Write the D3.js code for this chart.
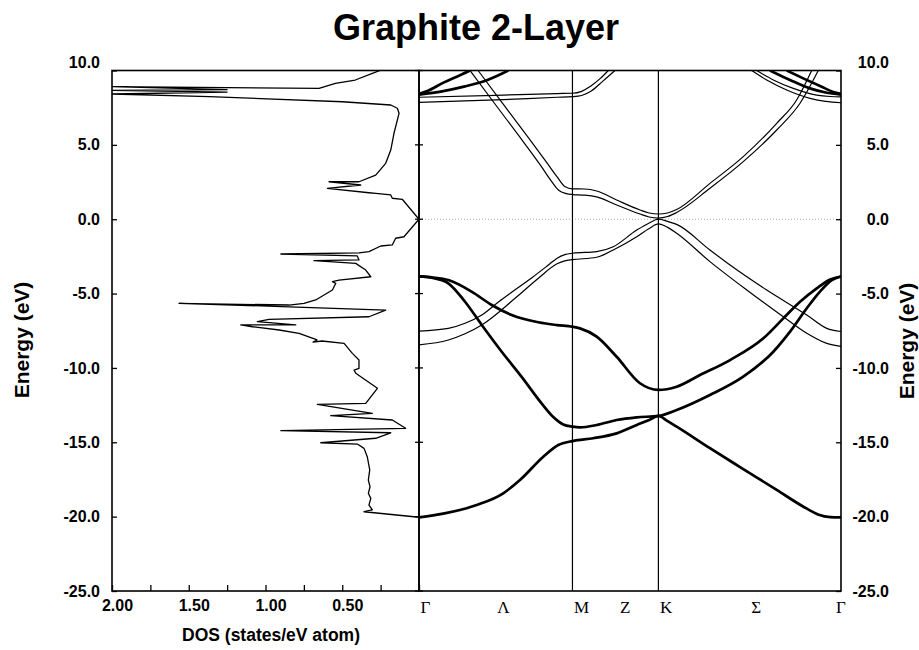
<!DOCTYPE html>
<html lang="en">
<head>
  <meta charset="UTF-8">
  <title>Graphite 2-Layer</title>
  <style>
    body { margin: 0; background: #fff; }
    svg { display: block; }
  </style>
</head>
<body>
<svg width="919" height="650"></svg>

<script src="https://cdn.jsdelivr.net/npm/d3@7"></script>
<script>
  // axis ticks
  var energyTicks = [10, 5, 0, -5, -10, -15, -20, -25];
  var dosTicks = [2, 1.75, 1.5, 1.25, 1, 0.75, 0.5, 0.25, 0];
  var dosLabels = [2, 1.5, 1, 0.5];

  // k path Γ-M-K-Γ (distance, ΓM = 1)
  var kPoints = [0, 1, 1.56, 2.75];
  var kLabels = ['Γ', 'Λ', 'M', 'Z', 'K', 'Σ', 'Γ'];
  var kLabelPos = [0, 0.5, 1, 1.3, 1.56, 2.155, 2.75];

  // density of states, [DOS, E]
  var dosCurve = [
    [0.00,-20.04],[0.358,-19.67],[0.304,-19.55],[0.326,-19.22],[0.314,-18.77],[0.330,-18.43],
    [0.319,-17.99],[0.330,-17.54],[0.321,-16.86],[0.337,-15.97],[0.358,-15.41],[0.402,-15.12],
    [0.640,-15.03],[0.282,-14.73],[0.184,-14.36],[0.900,-14.22],[0.087,-14.06],[0.174,-13.50],
    [0.575,-13.21],[0.304,-13.05],[0.662,-12.45],[0.347,-12.38],[0.271,-11.37],[0.412,-10.36],
    [0.423,-10.14],[0.391,-10.03],[0.391,-9.47],[0.434,-9.02],[0.488,-8.35],[0.632,-8.19],
    [0.690,-8.26],[0.664,-8.12],[0.781,-7.67],[0.911,-7.45],[1.085,-7.23],[1.161,-7.11],
    [0.803,-7.11],[1.053,-6.89],[0.977,-6.73],[0.326,-6.56],[0.217,-6.11],[0.846,-5.89],
    [1.563,-5.66],[0.846,-5.77],[0.749,-5.66],[0.673,-5.43],[0.564,-4.76],[0.542,-4.31],
    [0.564,-4.20],[0.521,-4.09],[0.314,-3.87],[0.347,-3.42],[0.412,-2.97],[0.684,-2.79],
    [0.391,-2.74],[0.402,-2.47],[0.900,-2.34],[0.391,-2.27],[0.326,-2.18],[0.249,-1.80],
    [0.174,-1.73],[0.152,-1.28],[0.098,-1.18],[0.00,0.00],[0.109,1.34],[0.174,1.41],
    [0.184,1.63],[0.282,1.74],[0.326,1.78],[0.597,2.08],[0.380,2.30],[0.586,2.52],
    [0.391,2.52],[0.282,2.97],[0.217,3.76],[0.184,4.65],[0.163,5.78],[0.130,7.12],
    [0.141,7.46],[0.184,7.68],[0.499,7.90],[1.367,8.24],[2.00,8.42],[1.25,8.55],
    [2.00,8.66],[1.25,8.72],[2.00,8.92],[0.651,8.80],[0.545,9.14],[0.415,9.36],
    [0.304,9.81],[0.254,10.00]
  ];

  // sigma bands (thick), [k, E]
  var sigma1 = [[0,-20.05],[0.158,-19.8],[0.376,-19.22],[0.549,-18.43],[0.658,-17.54],[0.810,-15.97],
    [0.908,-15.18],[1.0,-14.92],[1.136,-14.73],[1.288,-14.40],[1.419,-13.84],[1.50,-13.50],[1.56,-13.23],
    [1.62,-13.58],[1.679,-13.95],[1.896,-15.4],[2.113,-16.8],[2.331,-18.2],[2.50,-19.3],[2.60,-19.85],
    [2.68,-20.03],[2.75,-20.05]];
  var sigma2 = [[0,-3.85],[0.09,-3.95],[0.191,-4.31],[0.300,-5.55],[0.409,-7.11],[0.539,-8.91],
    [0.669,-10.6],[0.80,-12.4],[0.875,-13.3],[0.94,-13.8],[1.0,-13.95],[1.049,-14.0],[1.158,-13.84],
    [1.288,-13.50],[1.419,-13.32],[1.56,-13.23],[1.679,-12.83],[1.896,-11.82],[2.113,-10.59],[2.309,-8.91],
    [2.418,-7.56],[2.527,-5.99],[2.613,-4.87],[2.69,-4.1],[2.75,-3.85]];
  var sigma3 = [[0,-3.85],[0.09,-3.92],[0.191,-4.09],[0.343,-4.87],[0.474,-5.77],[0.604,-6.44],
    [0.777,-6.93],[0.9,-7.12],[1.0,-7.23],[1.049,-7.34],[1.158,-7.90],[1.288,-9.25],[1.440,-11.03],
    [1.56,-11.48],[1.679,-11.26],[1.831,-10.48],[2.027,-9.47],[2.244,-8.01],[2.374,-6.67],[2.483,-5.55],
    [2.592,-4.65],[2.68,-4.05],[2.75,-3.85]];
  var sigmaUpL1 = [[0,8.42],[0.05,8.6],[0.163,9.2],[0.25,9.6],[0.332,10]];
  var sigmaUpL2 = [[0,8.38],[0.15,8.6],[0.30,8.93],[0.45,9.38],[0.582,10]];
  var sigmaUpR1 = [[2.287,10],[2.418,9.36],[2.548,8.80],[2.65,8.52],[2.75,8.38]];
  var sigmaUpR2 = [[2.396,10],[2.504,9.47],[2.635,8.85],[2.70,8.55],[2.75,8.42]];

  // pi bands and upper bands (thin), [k, E]
  var pi1 = [[0,-8.45],[0.191,-8.12],[0.30,-7.7],[0.409,-7.11],[0.626,-5.32],[0.78,-3.95],[0.90,-3.0],
    [0.95,-2.8],[1.0,-2.72],[1.158,-2.56],[1.266,-2.07],[1.419,-1.18],[1.50,-0.62],[1.56,-0.32],
    [1.62,-0.55],[1.679,-0.95],[1.896,-2.85],[2.136,-4.76],[2.374,-6.56],[2.527,-7.67],[2.657,-8.35],
    [2.75,-8.55]];
  var pi2 = [[0,-7.52],[0.191,-7.34],[0.30,-7.0],[0.409,-6.44],[0.52,-5.55],[0.626,-4.75],[0.74,-3.9],
    [0.843,-3.08],[0.90,-2.62],[0.95,-2.38],[1.0,-2.29],[1.158,-2.18],[1.266,-1.85],[1.419,-0.73],
    [1.50,-0.25],[1.56,0.0],[1.62,-0.15],[1.679,-0.35],[1.896,-2.07],[2.027,-3.08],[2.266,-4.76],
    [2.527,-6.44],[2.657,-7.34],[2.75,-7.55]];
  var pi3 = [[0.332,10],[0.50,7.68],[0.68,5.2],[0.80,3.5],[0.86,2.6],[0.91,1.95],[0.96,1.72],[1.0,1.66],
    [1.08,1.62],[1.158,1.5],[1.288,0.96],[1.440,0.35],[1.50,0.15],[1.56,0.08],[1.62,0.18],[1.679,0.45],
    [1.896,2.08],[2.113,3.87],[2.331,6.0],[2.483,7.80],[2.602,10]];
  var pi4 = [[0.385,10],[0.55,7.72],[0.72,5.38],[0.84,3.7],[0.90,2.85],[0.95,2.2],[1.0,2.04],[1.08,2.03],
    [1.158,1.9],[1.288,1.29],[1.440,0.62],[1.50,0.42],[1.56,0.35],[1.62,0.42],[1.679,0.65],[1.896,2.41],
    [2.113,4.21],[2.331,6.45],[2.461,8.02],[2.559,10]];
  var upL1 = [[0,7.85],[0.5,8.02],[0.9,8.2],[1.0,8.24],[1.06,8.32],[1.12,8.6],[1.20,9.3],[1.277,10]];
  var upL2 = [[0,8.2],[0.5,8.33],[0.9,8.45],[1.0,8.47],[1.06,8.6],[1.12,8.95],[1.18,9.45],[1.234,10]];
  var upR1 = [[2.168,10],[2.266,9.36],[2.396,8.69],[2.548,8.13],[2.65,7.92],[2.75,7.83]];
  var upR2 = [[2.201,10],[2.309,9.36],[2.439,8.80],[2.592,8.35],[2.68,8.25],[2.75,8.22]];

  var thickBands = [sigma1, sigma2, sigma3, sigmaUpL1, sigmaUpL2, sigmaUpR1, sigmaUpR2];
  var thinBands = [pi1, pi2, pi3, pi4, upL1, upL2, upR1, upR2];

  var svg = d3.select('svg');
  var boldFont = '"Liberation Sans", Arial, Helvetica, sans-serif';
  var plotTop = 70.5, plotBottom = 591;

  var eScale = d3.scaleLinear().domain([-25, 10]).range([plotBottom, plotTop]);
  var dosScale = d3.scaleLinear().domain([2, 0]).range([112, 419]);
  var kScale = d3.scaleLinear().domain([0, 2.75]).range([419, 841]);

  var defs = svg.append('defs');
  defs.append('clipPath').attr('id', 'clipDos').append('rect')
    .attr('x', dosScale(2)).attr('y', plotTop)
    .attr('width', dosScale(0) - dosScale(2)).attr('height', plotBottom - plotTop);
  defs.append('clipPath').attr('id', 'clipBand').append('rect')
    .attr('x', kScale(0)).attr('y', plotTop)
    .attr('width', kScale(2.75) - kScale(0)).attr('height', plotBottom - plotTop);

  // title
  svg.append('text').attr('x', 476).attr('y', 40).attr('text-anchor', 'middle')
    .style('font-family', boldFont).style('font-weight', 'bold').style('font-size', '36px')
    .text('Graphite 2-Layer');

  // DOS panel
  var dosLine = d3.line().x(function (d) { return dosScale(d[0]); }).y(function (d) { return eScale(d[1]); });
  svg.append('path').datum(dosCurve).attr('d', dosLine)
    .attr('fill', 'none').attr('stroke', '#000').attr('stroke-width', 1.3)
    .attr('stroke-linejoin', 'round').attr('clip-path', 'url(#clipDos)');

  // band panel
  var bands = svg.append('g').attr('clip-path', 'url(#clipBand)');
  bands.append('line')
    .attr('x1', kScale(0)).attr('x2', kScale(2.75))
    .attr('y1', eScale(0)).attr('y2', eScale(0))
    .attr('stroke', '#999').attr('stroke-width', 0.8).attr('stroke-dasharray', '1,2');

  var bandLine = d3.line().x(function (d) { return kScale(d[0]); }).y(function (d) { return eScale(d[1]); })
    .curve(d3.curveMonotoneX);
  bands.selectAll('path.thin').data(thinBands).enter().append('path').attr('class', 'thin')
    .attr('d', bandLine).attr('fill', 'none').attr('stroke', '#000').attr('stroke-width', 1.2);
  bands.selectAll('path.thick').data(thickBands).enter().append('path').attr('class', 'thick')
    .attr('d', bandLine).attr('fill', 'none').attr('stroke', '#000').attr('stroke-width', 2.7);

  svg.selectAll('line.kline').data(kPoints.slice(1, 3)).enter().append('line').attr('class', 'kline')
    .attr('x1', function (d) { return kScale(d); }).attr('x2', function (d) { return kScale(d); })
    .attr('y1', plotTop).attr('y2', plotBottom).attr('stroke', '#000').attr('stroke-width', 1.2);

  // frames
  svg.append('rect').attr('x', dosScale(2)).attr('y', plotTop)
    .attr('width', dosScale(0) - dosScale(2)).attr('height', plotBottom - plotTop)
    .attr('fill', 'none').attr('stroke', '#000').attr('stroke-width', 1.6);
  svg.append('rect').attr('x', kScale(0)).attr('y', plotTop)
    .attr('width', kScale(2.75) - kScale(0)).attr('height', plotBottom - plotTop)
    .attr('fill', 'none').attr('stroke', '#000').attr('stroke-width', 1.6);

  function fmt1(d) { return d.toFixed(1); }
  function styleAxis(g) {
    g.select('.domain').remove();
    g.selectAll('.tick line').attr('stroke', '#000').attr('stroke-width', 1.3);
    g.selectAll('.tick text').attr('fill', '#000')
      .style('font-family', boldFont).style('font-weight', 'bold').style('font-size', '16px');
  }

  // left energy axis
  var leftAxis = d3.axisLeft(eScale).tickValues(energyTicks).tickSizeInner(-5).tickSizeOuter(0)
    .tickPadding(12).tickFormat(fmt1);
  var gLeft = svg.append('g').attr('transform', 'translate(' + dosScale(2) + ',0)').call(leftAxis);
  styleAxis(gLeft);
  gLeft.selectAll('.tick text').filter(function (d) { return d === 10; }).attr('y', -8.5);

  // right energy axis
  var rightAxis = d3.axisRight(eScale).tickValues(energyTicks).tickSizeInner(-5).tickSizeOuter(0)
    .tickFormat(fmt1);
  var gRight = svg.append('g').attr('transform', 'translate(' + kScale(2.75) + ',0)').call(rightAxis);
  styleAxis(gRight);
  gRight.selectAll('.tick text').attr('x', 48).attr('text-anchor', 'end');
  gRight.selectAll('.tick text').filter(function (d) { return d === 10; }).attr('y', -8.5);

  // ticks across the middle Γ line
  svg.selectAll('line.midtick').data(energyTicks).enter().append('line').attr('class', 'midtick')
    .attr('x1', kScale(0) - 4).attr('x2', kScale(0) + 4)
    .attr('y1', function (d) { return eScale(d); }).attr('y2', function (d) { return eScale(d); })
    .attr('stroke', '#000').attr('stroke-width', 1.3);

  // DOS axis
  var dosAxis = d3.axisBottom(dosScale).tickValues(dosTicks).tickSizeInner(-6).tickSizeOuter(0)
    .tickPadding(9).tickFormat(function (d) { return dosLabels.indexOf(d) >= 0 ? d.toFixed(2) : ''; });
  var gDos = svg.append('g').attr('transform', 'translate(0,' + plotBottom + ')').call(dosAxis);
  styleAxis(gDos);
  gDos.selectAll('.tick text').attr('dx', 5);

  // k point labels
  svg.selectAll('text.klabel').data(kLabels).enter().append('text').attr('class', 'klabel')
    .attr('x', function (d, i) { return kScale(kLabelPos[i]) + (i === kLabels.length - 1 ? 0 : 1.5); })
    .attr('y', 612.5)
    .attr('text-anchor', function (d, i) { return i === kLabels.length - 1 ? 'middle' : 'start'; })
    .style('font-family', '"Liberation Serif", "Times New Roman", serif').style('font-size', '17px')
    .text(function (d) { return d; });

  // axis titles
  svg.append('text').attr('x', 271).attr('y', 640.5).attr('text-anchor', 'middle')
    .style('font-family', boldFont).style('font-weight', 'bold').style('font-size', '17.5px')
    .text('DOS (states/eV atom)');
  svg.append('text').attr('transform', 'translate(29,340) rotate(-90)').attr('text-anchor', 'middle')
    .style('font-family', boldFont).style('font-weight', 'bold').style('font-size', '21px')
    .text('Energy (eV)');
  svg.append('text').attr('transform', 'translate(914,341) rotate(-90)').attr('text-anchor', 'middle')
    .style('font-family', boldFont).style('font-weight', 'bold').style('font-size', '21px')
    .text('Energy (eV)');
</script>
</body>
</html>
